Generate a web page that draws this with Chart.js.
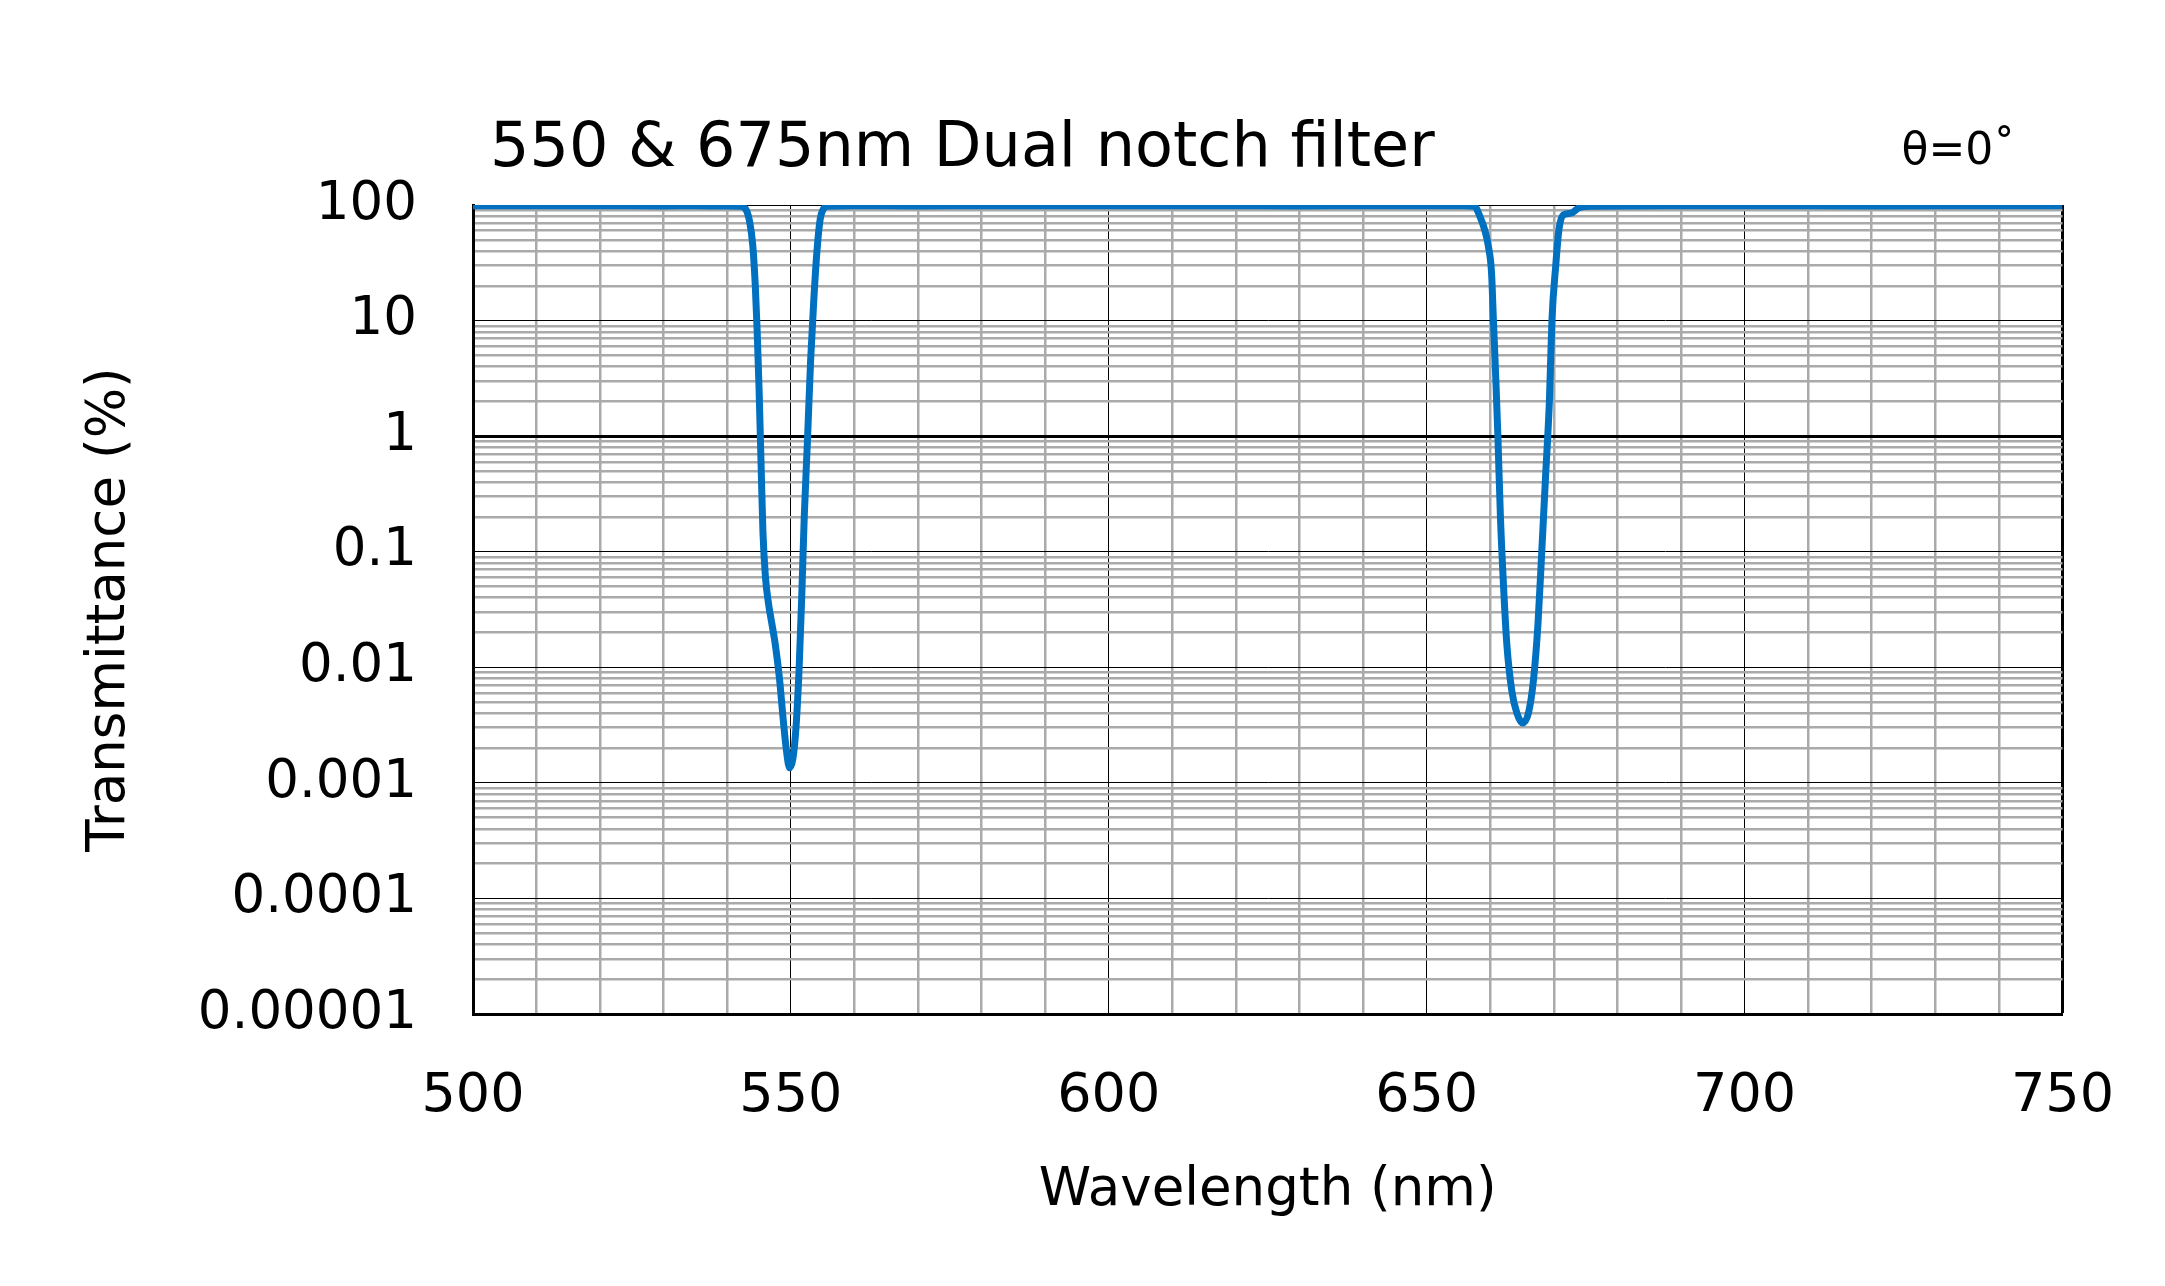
<!DOCTYPE html>
<html>
<head>
<meta charset="utf-8">
<script src="https://cdn.jsdelivr.net/npm/chart.js@4.4.1/dist/chart.umd.min.js"></script>
<style>
  html, body { margin: 0; padding: 0; background: #fff; }
  #wrap { width: 2165px; height: 1286px; position: relative; }
</style>
</head>
<body>
<div id="wrap"><canvas id="chart"></canvas></div>
<script>
// ========== DATOS ==========
const CHART_TITLE = '550 & 675nm Dual notch filter';
const ANGLE_LABEL = 'θ=0˚';
const X_TITLE = 'Wavelength (nm)';
const Y_TITLE = 'Transmittance (%)';

// longitud de onda (nm) y transmitancia (%)
const wavelength = [
  500, 510, 520, 530, 535, 540, 542, 543, 543.5, 544, 544.4, 544.7, 545, 545.3, 545.6,
  546, 546.5, 547, 547.6, 548.2, 548.8, 549.3, 549.8, 550.3, 550.8, 551.3, 551.7, 552.1,
  552.6, 553.1, 553.6, 554.1, 554.6, 555.1, 555.8, 560, 570, 580, 590, 600, 610, 620, 630,
  640, 650, 656, 657.5, 658.4, 659.2, 659.7, 660.2, 660.5, 660.9, 661.2, 661.6, 662.1,
  662.6, 663.4, 664.2, 665.1, 666.0, 666.8, 667.5, 668.1, 668.7, 669.3, 669.7, 670.3,
  670.8, 671.5, 672.7, 674, 676, 690, 700, 720, 740, 750
];
const transmittance = [
  98.5, 98.3, 98.6, 98.2, 98.5, 97.8, 97.5, 90, 72, 45, 20, 8, 2.5, 0.6, 0.15,
  0.06, 0.035, 0.024, 0.015, 0.008, 0.0035, 0.0019, 0.00135, 0.0016, 0.003, 0.01, 0.04, 0.2,
  0.9, 4.5, 15, 40, 75, 92, 97.5, 98.5, 98.2, 98.6, 98.4, 98.3, 98.6, 98.5, 98.2,
  98.5, 98.3, 98.4, 97.5, 79, 59, 44, 26, 10, 2.85, 1.0, 0.2, 0.049,
  0.016, 0.0062, 0.004, 0.0033, 0.004, 0.0078, 0.0235, 0.1, 0.45, 2.0, 10, 30,
  61, 82, 85, 95, 97.5, 98.3, 98.5, 98.2, 98.6, 98.7
];

// ejes
const X_MIN = 500, X_MAX = 750, X_STEP = 10, X_LABEL_STEP = 50;
const yDecades    = [100, 10, 1, 0.1, 0.01, 0.001, 0.0001, 0.00001];
const yTickLabels = ['100', '10', '1', '0.1', '0.01', '0.001', '0.0001', '0.00001'];

// ========== UTILIDADES ==========
const FONT = '"DejaVu Sans", Verdana, sans-serif';
const GRAY = '#aaaaaa';

function decadeIndex(v) {
  return yDecades.findIndex(d => Math.abs(v - d) / d < 1e-6);
}

// lineas menores 2..9 de cada decada + decadas
const yGridValues = [];
for (let i = yDecades.length - 1; i >= 1; i--) {
  const base = yDecades[i];
  for (let m = 1; m <= 9; m++) yGridValues.push(base * m);
}
yGridValues.push(yDecades[0]);

const xGridValues = [];
for (let v = X_MIN; v <= X_MAX; v += X_STEP) xGridValues.push(v);

// titulo y angulo
const textPlugin = {
  id: 'textPlugin',
  afterDraw(chart) {
    const { ctx, chartArea } = chart;
    ctx.save();
    ctx.fillStyle = '#000';
    ctx.textBaseline = 'alphabetic';
    ctx.textAlign = 'left';
    ctx.font = '62px ' + FONT;
    ctx.fillText(CHART_TITLE, chartArea.left + 17, chartArea.top - 39);
    ctx.font = '44px ' + FONT;
    ctx.fillText(ANGLE_LABEL, chartArea.right - 161, chartArea.top - 41);
    ctx.restore();
  }
};

// ========== GRAFICO ==========
new Chart(document.getElementById('chart').getContext('2d'), {
  type: 'line',
  data: {
    datasets: [{
      data: wavelength.map((w, i) => ({ x: w, y: transmittance[i] })),
      borderColor: '#0070c0',
      borderWidth: 7,
      pointRadius: 0,
      cubicInterpolationMode: 'monotone',
      fill: false
    }]
  },
  options: {
    responsive: true, maintainAspectRatio: false,
    animation: false,
    devicePixelRatio: 1,
    layout: { padding: { top: 205, right: 101, left: 0, bottom: 0 } },
    plugins: { legend: { display: false }, tooltip: { enabled: false } },
    scales: {
      x: {
        type: 'linear', min: X_MIN, max: X_MAX,
        afterBuildTicks: s => { s.ticks = xGridValues.map(v => ({ value: v })); },
        afterFit: s => { s.height = 272; },
        ticks: {
          autoSkip: false, maxRotation: 0, padding: 51,
          color: '#000', font: { family: FONT, size: 54 },
          callback: v => (v % X_LABEL_STEP === 0 ? String(v) : '')
        },
        grid: {
          drawTicks: false,
          color: c => (c.tick && c.tick.value % X_LABEL_STEP === 0 ? '#000' : GRAY),
          lineWidth: c => {
            if (!c.tick) return 1;
            if (c.tick.value === X_MAX) return 3;
            return c.tick.value % X_LABEL_STEP === 0 ? 1 : 2.5;
          }
        },
        border: { color: '#000', width: 3 },
        title: { display: true, text: X_TITLE, color: '#000', font: { family: FONT, size: 53 }, padding: 63 }
      },
      y: {
        type: 'logarithmic', min: 0.00001, max: 100,
        afterBuildTicks: s => { s.ticks = yGridValues.map(v => ({ value: v })); },
        afterFit: s => { s.width = 473; },
        ticks: {
          autoSkip: false, padding: 56,
          color: '#000', font: { family: FONT, size: 53 },
          callback: v => { const i = decadeIndex(v); return i >= 0 ? yTickLabels[i] : ''; }
        },
        grid: {
          drawTicks: false,
          color: c => (c.tick && decadeIndex(c.tick.value) >= 0 ? '#000' : GRAY),
          lineWidth: c => {
            if (!c.tick) return 1;
            const i = decadeIndex(c.tick.value);
            if (i < 0) return 2.5;
            return yDecades[i] === 1 ? 3 : 1;
          }
        },
        border: { color: '#000', width: 3 },
        title: { display: true, text: Y_TITLE, color: '#000', font: { family: FONT, size: 53 }, padding: 78 }
      }
    }
  },
  plugins: [textPlugin]
});
</script>
</body>
</html>
